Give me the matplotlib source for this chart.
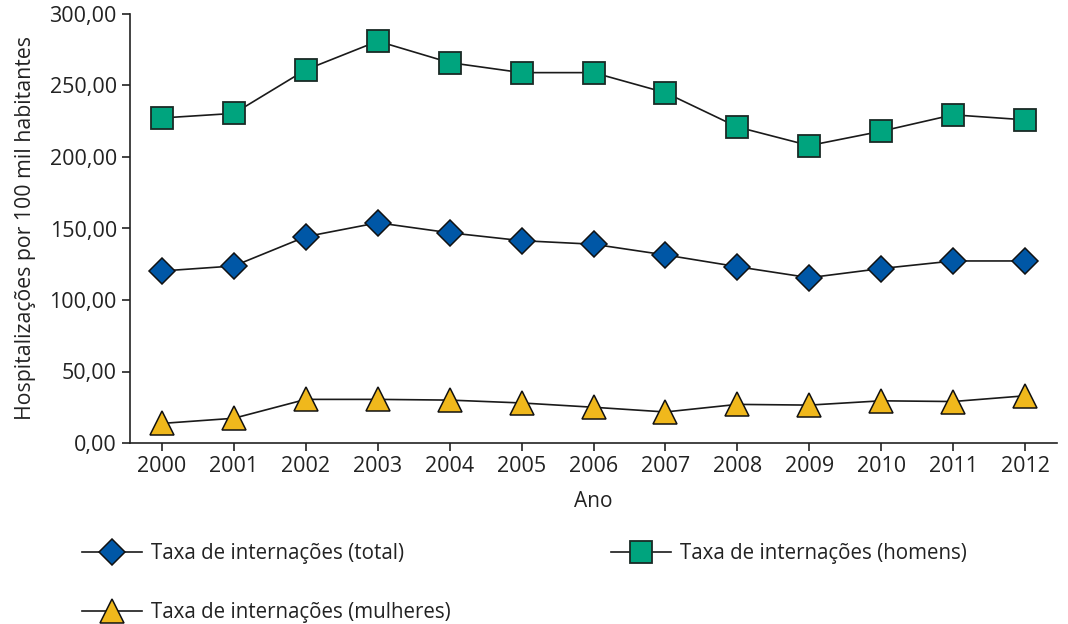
import numpy as np
import matplotlib
matplotlib.use("Agg")
import matplotlib.pyplot as plt
from matplotlib.ticker import FuncFormatter

# dados
anos = [2000, 2001, 2002, 2003, 2004, 2005, 2006, 2007, 2008, 2009, 2010, 2011, 2012]
total = [120.3, 123.8, 144.3, 154.0, 147.0, 141.5, 139.0, 131.5, 123.3, 115.6, 122.0, 127.3, 127.3]
homens = [227.3, 230.5, 261.0, 281.0, 266.0, 259.0, 259.0, 245.0, 221.0, 208.0, 218.0, 229.5, 226.0]
mulheres = [13.7, 17.3, 30.5, 30.5, 30.0, 28.0, 25.0, 21.7, 27.0, 26.5, 29.5, 29.0, 33.0]

rotulos = ["Taxa de internações (total)",
           "Taxa de internações (homens)",
           "Taxa de internações (mulheres)"]

plt.rcParams['font.family'] = ['Open Sans', 'DejaVu Sans']
cor_texto = '#222222'

dpi = 100
fig = plt.figure(figsize=(1068 / dpi, 624 / dpi), dpi=dpi)
ax = fig.add_axes([130 / 1068, 1 - 443 / 624, 927 / 1068, 429 / 624])

l_total, = ax.plot(anos, total, color='#1a1a1a', lw=1.2, marker='D', ms=13.5,
                   mfc='#0057a6', mec='#111111', mew=1.1, clip_on=False)
l_homens, = ax.plot(anos, homens, color='#1a1a1a', lw=1.2, marker='s', ms=16.5,
                    mfc='#00a47e', mec='#1a2a25', mew=1.3, clip_on=False)
l_mulheres, = ax.plot(anos, mulheres, color='#1a1a1a', lw=1.2, marker='^', ms=17,
                      mfc='#f0b81c', mec='#111111', mew=1.1, clip_on=False)

ax.set_xlim(1999.555, 2012.445)
ax.set_ylim(0, 300)
ax.set_xticks(anos)
ax.set_yticks(np.arange(0, 301, 50))
ax.yaxis.set_major_formatter(FuncFormatter(lambda v, p: ('%.2f' % v).replace('.', ',')))

for s in ['top', 'right']:
    ax.spines[s].set_visible(False)
for s in ['left', 'bottom']:
    ax.spines[s].set_linewidth(1.2)
    ax.spines[s].set_color(cor_texto)
ax.tick_params(axis='both', direction='out', length=6, width=1.2, color=cor_texto,
               labelsize=15.5, labelcolor=cor_texto, pad=3.5)

ax.set_xlabel('Ano', fontsize=15, color=cor_texto, labelpad=10)
ax.set_ylabel('Hospitalizações por 100 mil habitantes', fontsize=15.3, color=cor_texto, labelpad=10)

# legenda em duas partes
estilo = dict(frameon=False, loc='upper left', fontsize=14.8, handlelength=2.9,
              handletextpad=0.45, labelspacing=1.87, labelcolor=cor_texto,
              borderaxespad=0, borderpad=0)
fig.legend([l_total, l_mulheres], [rotulos[0], rotulos[2]],
           bbox_to_anchor=(82 / 1068, 1 - 543 / 624), **estilo)
fig.legend([l_homens], [rotulos[1]],
           bbox_to_anchor=(611 / 1068, 1 - 543 / 624), **estilo)

fig.savefig('out.png', dpi=dpi)
